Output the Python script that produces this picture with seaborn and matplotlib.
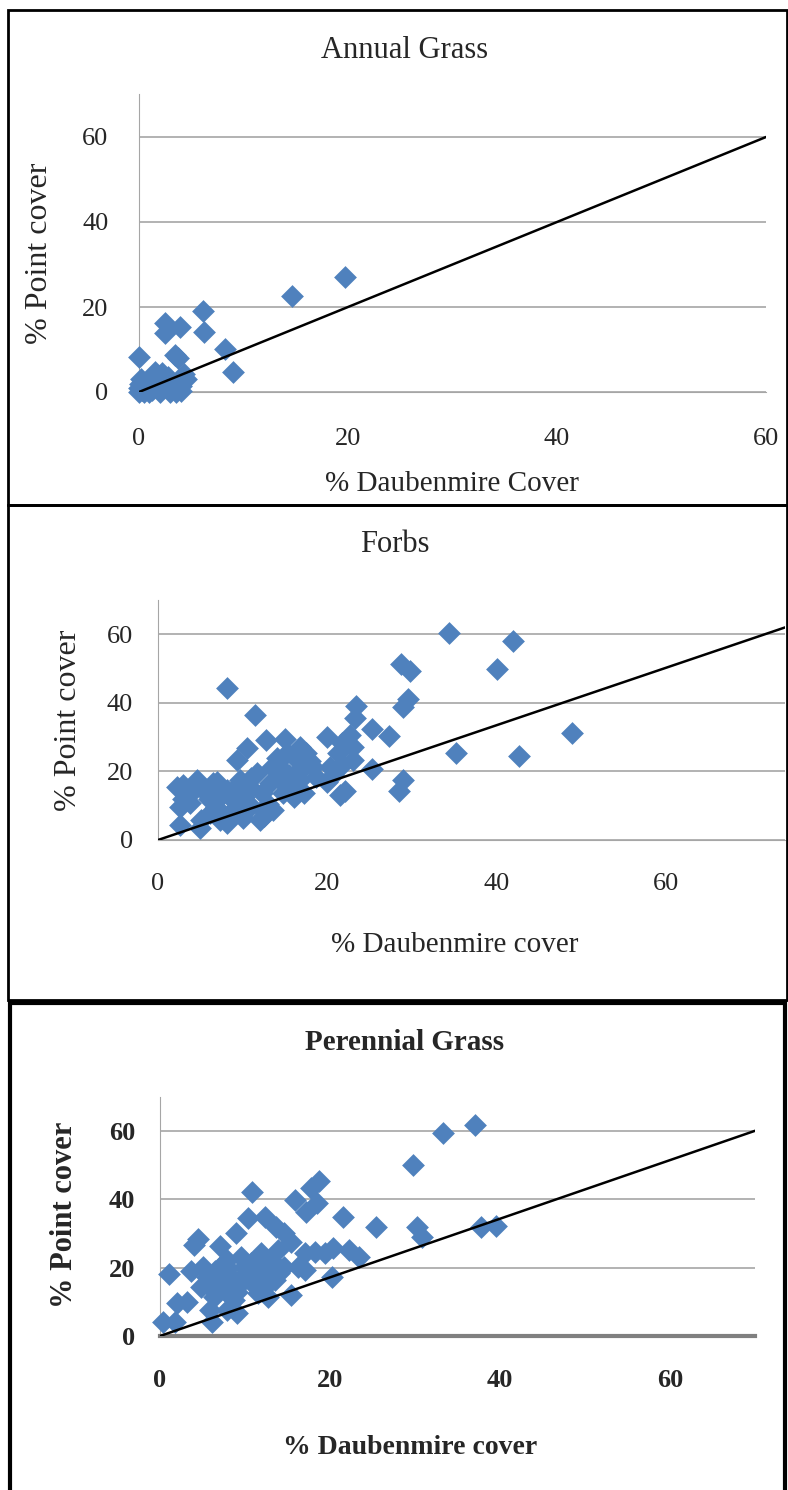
import seaborn as sns
import matplotlib.pyplot as plt
from matplotlib.patches import Rectangle

# Annual grass: (% Daubenmire, % point cover)
annual_x = [0, 2.5, 2.5, 3.9, 6.1, 6.2, 3.4, 3.7, 8.2, 9.0, 14.6, 19.7,
            0, 0, 0.1, 0.3, 0.5, 1.0, 1.5, 2.2, 2.5, 3.0, 2.0, 4.3, 4.5, 4.0,
            3.5, 1.5, 0.2, 2.8, 0.8, 4.0, 1.2, 0.6]
annual_y = [8.3, 16.2, 13.8, 15.4, 19.1, 14.0, 8.7, 8.0, 10.0, 4.8, 22.6, 27.0,
            0, 1.0, 2.0, 0.5, 0, 0, 4.8, 4.4, 2.5, 0, 0, 4.2, 3.0, 1.5,
            0, 1.5, 3.0, 3.6, 2.2, 0.3, 0.5, 1.2]

forbs_x = [8.1, 11.4, 23.4, 23.2, 19.9, 25.2, 27.3, 28.7, 29.7, 29.5, 28.9, 28.9,
           28.5, 25.2, 22.1, 21.5, 19.9, 12.8, 15.0, 10.5, 9.3, 16.8, 17.5, 17.9,
           16.4, 15.2, 22.7, 23.0, 21.7, 21.3, 21.7, 23.0, 20.3, 20.7, 2.2, 3.0,
           2.6, 3.8, 2.6, 5.0, 5.1, 4.6, 5.7, 6.5, 6.9, 7.3, 8.1, 6.1, 8.1, 8.9,
           9.7, 10.1, 10.9, 11.7, 12.3, 12.4, 12.0, 13.6, 13.2, 14.4, 14.8, 15.6,
           16.0, 16.8, 17.2, 18.3, 18.7, 17.2, 14.4, 13.4, 34.3, 41.9, 40.0, 35.2,
           42.6, 48.9, 7.5, 9.0, 11.0, 6.0, 4.0, 8.5, 10.0, 5.5, 7.0, 3.0, 16.5, 14.0,
           12.5, 11.0, 9.5, 7.0, 13.0, 15.5]
forbs_y = [44.3, 36.5, 39.1, 35.5, 29.9, 32.3, 30.4, 51.4, 49.4, 41.1, 38.7, 17.5,
           14.4, 20.6, 14.4, 13.1, 17.0, 29.2, 29.4, 26.8, 23.4, 27.2, 25.3, 22.9,
           23.4, 25.3, 30.7, 27.2, 28.2, 25.3, 21.9, 23.4, 21.4, 19.0, 15.6, 16.1,
           9.7, 10.7, 4.4, 3.4, 5.8, 17.5, 13.6, 16.5, 9.7, 5.8, 4.9, 7.8, 14.6, 11.7,
           17.5, 12.6, 15.6, 19.5, 13.6, 8.8, 5.8, 8.8, 16.5, 17.5, 13.6, 15.6,
           12.6, 17.5, 21.4, 21.4, 18.5, 13.6, 21.4, 21.4, 60.5, 57.9, 49.8, 25.5,
           24.5, 31.3, 13.0, 15.0, 10.0, 12.0, 14.0, 8.0, 6.5, 15.0, 17.0, 12.0, 20.0, 24.0,
           7.0, 18.0, 11.0, 14.0, 10.5, 19.0]

perennial_x = [18.7, 17.8, 10.8, 15.9, 18.5, 17.2, 21.5, 25.4, 10.3, 12.3, 13.7, 14.6,
               15.4, 8.9, 4.5, 4.0, 7.1, 1.0, 3.6, 18.2, 19.4, 20.4, 22.2, 23.4,
               20.2, 17.0, 15.4, 5.1, 6.7, 7.9, 9.5, 10.7, 11.9, 13.1, 13.9, 14.6,
               13.5, 12.3, 11.1, 9.9, 8.7, 7.5, 5.9, 6.3, 8.7, 9.1, 7.9, 5.9, 6.1,
               3.2, 2.0, 0.4, 1.8, 16.2, 17.0, 12.7, 11.5, 4.8, 5.5, 9.9, 11.5, 7.9,
               7.1, 33.3, 37.0, 29.8, 30.2, 30.8, 37.8, 39.5, 6.5, 8.0, 10.0, 12.0,
               14.0, 9.0, 7.0, 11.0, 13.0]
perennial_y = [45.4, 43.2, 42.2, 39.8, 38.8, 36.3, 34.9, 31.8, 34.4, 34.9, 32.0, 30.0,
               27.6, 30.0, 28.3, 26.6, 26.4, 18.1, 19.1, 24.7, 24.2, 25.6, 25.1, 23.2,
               17.3, 19.3, 12.0, 20.3, 17.3, 22.2, 23.2, 21.3, 24.2, 22.2, 25.1, 20.3,
               16.4, 14.4, 18.3, 16.4, 15.4, 13.5, 14.4, 11.5, 10.5, 6.6, 7.6, 7.6, 4.2,
               10.0, 9.6, 4.2, 4.2, 20.3, 24.2, 11.5, 12.5, 14.4, 17.3, 20.3, 20.3, 18.3,
               20.3, 59.4, 61.7, 50.0, 31.9, 29.0, 32.0, 32.2, 19.0, 20.0, 18.0, 17.0,
               18.5, 13.0, 16.0, 15.0, 19.5]

# reference lines drawn on each panel
annual_line = ([0, 60], [0, 60])
forbs_line = ([0, 74], [0, 62])
perennial_line = ([0, 70], [0, 60])

W, H = 788, 1490
BLUE = "#4F81BD"

sns.set_style("white")
plt.rcParams['font.family'] = ['Liberation Serif', 'DejaVu Serif']

fig = plt.figure(figsize=(W / 100, H / 100), dpi=100)


def px_axes(left, right, top, bottom):
    return fig.add_axes([left / W, 1 - bottom / H, (right - left) / W, (bottom - top) / H])


def style_panel(ax, xs, ys, line, xmax, bold, xpad, ypad):
    sns.scatterplot(x=xs, y=ys, marker="D", s=135, color=BLUE, edgecolor=BLUE,
                    linewidth=0, ax=ax, zorder=3, clip_on=False)
    sns.lineplot(x=line[0], y=line[1], color="black", linewidth=1.8, ax=ax, zorder=4)
    ax.set_xlim(0, xmax)
    ax.set_ylim(0, 70)
    ax.set_xticks([0, 20, 40, 60])
    ax.set_yticks([0, 20, 40, 60])
    ax.yaxis.grid(True, color="#A6A6A6", linewidth=1.2)
    ax.set_axisbelow(True)
    for s in ["top", "right"]:
        ax.spines[s].set_visible(False)
    ax.spines["left"].set_color("#A6A6A6")
    ax.spines["bottom"].set_color("#A6A6A6")
    w = "bold" if bold else "normal"
    ax.tick_params(length=0, labelsize=19)
    ax.tick_params(axis="x", pad=xpad)
    ax.tick_params(axis="y", pad=ypad)
    for lab in ax.get_xticklabels() + ax.get_yticklabels():
        lab.set_fontweight(w)


# Panel borders
fig.add_artist(Rectangle((8 / W, 1 - 505 / H), 779 / W, 495 / H, transform=fig.transFigure,
                         fill=False, lw=2, color="black"))
fig.add_artist(Rectangle((8 / W, 1 - 1000 / H), 779 / W, 495 / H, transform=fig.transFigure,
                         fill=False, lw=2, color="black"))
fig.add_artist(Rectangle((10 / W, 1 - 1495 / H), 775 / W, 492 / H, transform=fig.transFigure,
                         fill=False, lw=3, color="black"))

# Annual Grass
ax1 = px_axes(139, 766, 94.5, 392)
style_panel(ax1, annual_x, annual_y, annual_line, 60, False, 26, 22)
fig.text(405 / W, 1 - 50 / H, "Annual Grass", ha="center", va="center", fontsize=22)
fig.text(452 / W, 1 - 484 / H, "% Daubenmire Cover", ha="center", va="center", fontsize=21)
fig.text(40 / W, 1 - 253 / H, "% Point cover", ha="center", va="center", fontsize=23, rotation=90)

# Forbs
ax2 = px_axes(158, 785, 600, 840)
style_panel(ax2, forbs_x, forbs_y, forbs_line, 74, False, 24, 18)
fig.text(395 / W, 1 - 545 / H, "Forbs", ha="center", va="center", fontsize=22)
fig.text(455 / W, 1 - 945 / H, "% Daubenmire cover", ha="center", va="center", fontsize=21)
fig.text(68 / W, 1 - 720 / H, "% Point cover", ha="center", va="center", fontsize=23, rotation=90)

# Perennial Grass
ax3 = px_axes(160, 755, 1096.6, 1336)
style_panel(ax3, perennial_x, perennial_y, perennial_line, 70, True, 24, 18)
ax3.spines["bottom"].set_color("#808080")
ax3.spines["bottom"].set_linewidth(3)
fig.text(405 / W, 1 - 1043 / H, "Perennial Grass", ha="center", va="center", fontsize=21,
         fontweight="bold")
fig.text(410 / W, 1 - 1448 / H, "% Daubenmire cover", ha="center", va="center", fontsize=20,
         fontweight="bold")
fig.text(65 / W, 1 - 1215 / H, "% Point cover", ha="center", va="center", fontsize=22,
         fontweight="bold", rotation=90)

fig.savefig("out.png", dpi=100)
